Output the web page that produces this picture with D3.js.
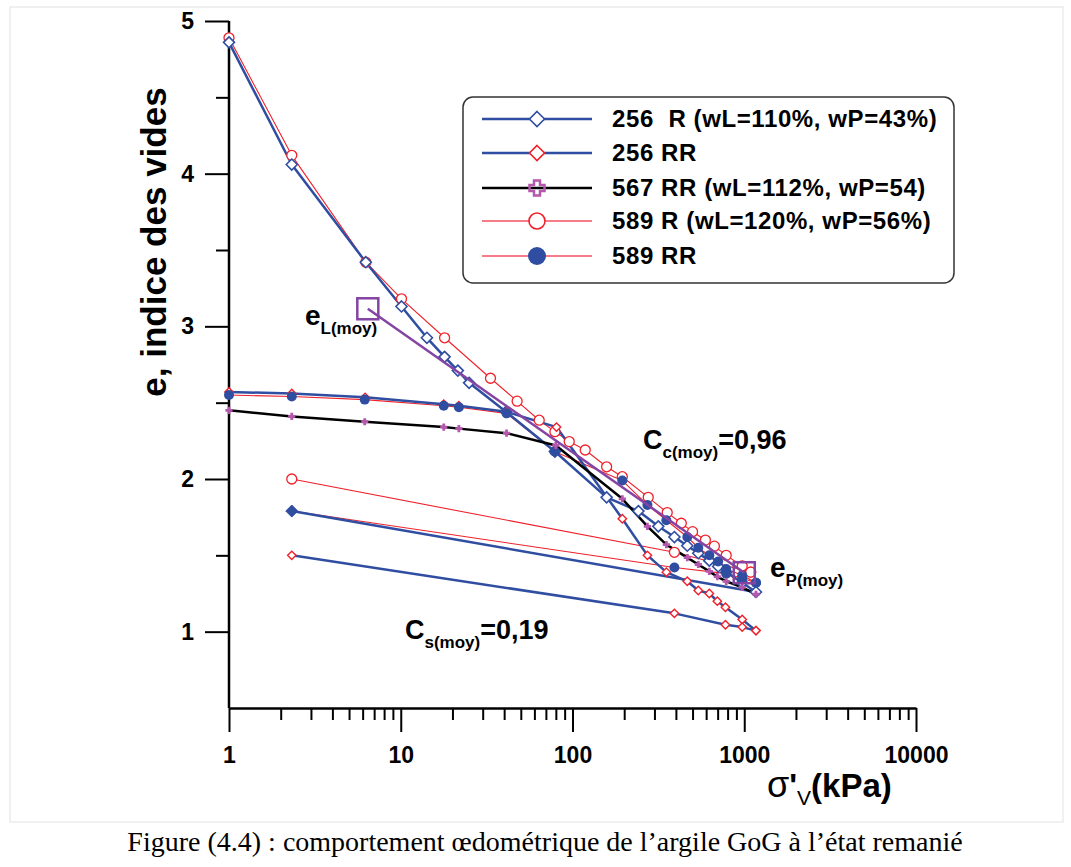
<!DOCTYPE html>
<html><head><meta charset="utf-8">
<script src="https://cdn.jsdelivr.net/npm/d3@7"></script>
<style>body{margin:0;background:#fff}svg{display:block}</style>
</head><body><svg id="c" width="1071" height="867"></svg>
<script>
// ---- data ----
const xTicks = [1, 10, 100, 1000, 10000];
const xTickLabels = ["1", "10", "100", "1000", "10000"];
const yTicks = [1, 2, 3, 4, 5];
const yMinorTicks = [1.5, 2.5, 3.5, 4.5];

const sig256R = [1, 2.32, 6.26, 10.1, 14.2, 18, 21.5, 25, 41, 79, 158, 242, 316, 392, 466, 540, 626, 705, 785, 973, 1170];
const e256R   = [4.86, 4.06, 3.42, 3.13, 2.925, 2.80, 2.71, 2.63, 2.44, 2.18, 1.88, 1.79, 1.69, 1.62, 1.563, 1.514, 1.465, 1.427, 1.39, 1.32, 1.26];
const sig256Ru = [1170, 2.32];
const e256Ru   = [1.26, 1.79];

const sig256RR = [1, 2.32, 6.2, 17.8, 21.8, 41.3, 80.7, 195, 273, 352, 466, 540, 626, 697, 777, 973, 1170];
const e256RR   = [2.57, 2.56, 2.535, 2.49, 2.48, 2.44, 2.34, 1.74, 1.50, 1.39, 1.33, 1.27, 1.25, 1.20, 1.16, 1.08, 1.007];
const sig256RRu = [1170, 973, 777, 392, 2.32];
const e256RRu   = [1.007, 1.03, 1.045, 1.12, 1.50];

const sig567RR = [1, 2.32, 6.17, 17.8, 21.8, 41.3, 80, 195, 273, 352, 466, 540, 626, 697, 785, 973, 1170];
const e567RR   = [2.45, 2.41, 2.375, 2.34, 2.33, 2.30, 2.22, 1.87, 1.69, 1.57, 1.485, 1.44, 1.395, 1.36, 1.33, 1.29, 1.245];

const sig589R = [1, 2.32, 6.26, 10.1, 18, 33.3, 47.6, 64, 79, 95.7, 118.6, 158, 195, 276, 356, 430, 500, 594, 670, 785, 973, 1090];
const e589R   = [4.89, 4.12, 3.42, 3.18, 2.925, 2.66, 2.51, 2.385, 2.31, 2.245, 2.19, 2.08, 2.015, 1.88, 1.78, 1.71, 1.655, 1.60, 1.56, 1.50, 1.43, 1.39];
const sig589Ru = [1090, 392, 2.32];
const e589Ru   = [1.39, 1.52, 2.0];

const sig589RR = [1, 2.32, 6.17, 17.8, 21.8, 41.3, 78.5, 195, 273, 352, 466, 540, 626, 705, 785, 973, 1170];
const e589RR   = [2.55, 2.54, 2.52, 2.48, 2.47, 2.43, 2.18, 1.99, 1.83, 1.73, 1.62, 1.55, 1.50, 1.46, 1.41, 1.37, 1.32];
const sig589RRu = [1170, 973, 785, 392, 2.32];
const e589RRu   = [1.32, 1.35, 1.38, 1.42, 1.79];

const sigCc = [6.43, 1000];
const eCc   = [3.115, 1.386];

const legendLabels = ["256  R (wL=110%, wP=43%)", "256 RR", "567 RR (wL=112%, wP=54)", "589 R (wL=120%, wP=56%)", "589 RR"];

// ---- setup ----
const BLUE = "#2f4ea2", RED = "#f0202a", PURPLE = "#8444a3", PLUS = "#b457ad";
const svg = d3.select("#c");
const x = d3.scaleLog().domain([1, 10000]).range([229, 916]);
const y = d3.scaleLinear().domain([0.5, 5]).range([708, 21]);
const zip = (a, b) => a.map((v, i) => [v, b[i]]);
const line = d3.line().x(d => x(d[0])).y(d => y(d[1]));

// frame
svg.append("rect").attr("x", 10).attr("y", 7).attr("width", 1053).attr("height", 815)
  .attr("fill", "none").attr("stroke", "#e2e2e2").attr("stroke-width", 1);

// axes
const minorX = [];
for (let d = 1; d < 10000; d *= 10) for (let k = 2; k <= 9; k++) minorX.push(d * k);
const gxm = svg.append("g").attr("transform", "translate(0,708)")
  .call(d3.axisBottom(x).tickValues(minorX).tickSize(12).tickFormat(""));
const gx = svg.append("g").attr("transform", "translate(0,708)")
  .call(d3.axisBottom(x).tickValues(xTicks).tickSize(24).tickSizeOuter(0).tickPadding(15)
    .tickFormat((d, i) => xTickLabels[i]));
const gym = svg.append("g").attr("transform", "translate(229,0)")
  .call(d3.axisLeft(y).tickValues(yMinorTicks).tickSize(13).tickFormat(""));
const gy = svg.append("g").attr("transform", "translate(229,0)")
  .call(d3.axisLeft(y).tickValues(yTicks).tickSize(24).tickSizeOuter(0).tickPadding(11).tickFormat(d3.format("d")));
[gx, gxm, gy, gym].forEach(g => {
  g.selectAll("path.domain").attr("stroke", "#000").attr("stroke-width", 2.5);
  g.selectAll(".tick line").attr("stroke", "#000").attr("stroke-width", 2);
  g.selectAll("text").attr("font-family", "Liberation Sans, Arial, sans-serif")
    .attr("font-weight", "bold").attr("font-size", 23).attr("fill", "#000");
});
gxm.select("path.domain").remove();
gym.select("path.domain").remove();
gy.select("path.domain").attr("d", "M0,708V21");

// axis titles
svg.append("text").attr("transform", "translate(166,242) rotate(-90)").attr("text-anchor", "middle")
  .attr("font-family", "Liberation Sans, Arial, sans-serif").attr("font-weight", "bold").attr("font-size", 35)
  .text("e, indice des vides");
const xt = svg.append("text").attr("x", 767).attr("y", 797)
  .attr("font-family", "Liberation Sans, Arial, sans-serif").attr("font-size", 33);
xt.append("tspan").attr("font-weight", "normal").attr("font-size", 36).text("σ");
xt.append("tspan").attr("font-weight", "bold").text("'");
xt.append("tspan").attr("font-size", 21).attr("dy", 8).text("V");
xt.append("tspan").attr("font-weight", "bold").attr("dy", -8).text("(kPa)");

// markers
const diamond = r => `M0,${-r}L${r},0L0,${r}L${-r},0Z`;
const plusPath = (a, b) => `M${-b},${-a}H${b}V${-b}H${a}V${b}H${b}V${a}H${-b}V${b}H${-a}V${-b}H${-b}Z`;

const plot = svg.append("g");
function drawLine(pts, color, w) {
  plot.append("path").datum(pts).attr("d", line).attr("fill", "none").attr("stroke", color)
    .attr("stroke-width", w).attr("stroke-linejoin", "round");
}
function drawMarks(pts, kind) {
  const g = plot.append("g");
  const s = g.selectAll("path").data(pts).join("path")
    .attr("transform", d => `translate(${x(d[0])},${y(d[1])})`);
  if (kind === "bdiam") s.attr("d", diamond(5.5)).attr("fill", "#fff").attr("stroke", BLUE).attr("stroke-width", 1.6);
  if (kind === "bdiamf") s.attr("d", diamond(6)).attr("fill", BLUE).attr("stroke", BLUE).attr("stroke-width", 1);
  if (kind === "rdiam") s.attr("d", diamond(4.2)).attr("fill", "#fff").attr("stroke", RED).attr("stroke-width", 1.4);
  if (kind === "rcirc") s.attr("d", d3.symbol(d3.symbolCircle, Math.PI * 25)).attr("fill", "#fff").attr("stroke", RED).attr("stroke-width", 1.3);
  if (kind === "bcirc") s.attr("d", d3.symbol(d3.symbolCircle, Math.PI * 25)).attr("fill", BLUE).attr("stroke", "none");
  if (kind === "plus") s.attr("d", plusPath(3.6, 1.4)).attr("fill", PLUS).attr("stroke", "none");
}

const s256R = zip(sig256R, e256R), s256Ru = zip(sig256Ru, e256Ru);
const s256RR = zip(sig256RR, e256RR), s256RRu = zip(sig256RRu, e256RRu);
const s567 = zip(sig567RR, e567RR);
const s589R = zip(sig589R, e589R), s589Ru = zip(sig589Ru, e589Ru);
const s589RR = zip(sig589RR, e589RR), s589RRu = zip(sig589RRu, e589RRu);

drawLine(s589R, RED, 1.1); drawLine(s589Ru, RED, 1.1);
drawLine(s589RR, RED, 1.1); drawLine(s589RRu, RED, 1.1);
drawLine(s256R, BLUE, 2.5); drawLine(s256Ru, BLUE, 2.5);
drawLine(s256RR, BLUE, 2.5); drawLine(s256RRu, BLUE, 2.5);
drawLine(s567, "#000", 2.5);
drawMarks(s589R, "rcirc"); drawMarks(s589Ru, "rcirc");
drawMarks(s256R, "bdiam"); drawMarks(s256Ru.slice(1), "bdiamf");
drawMarks(s256RR, "rdiam"); drawMarks(s256RRu, "rdiam");
drawMarks(s589RR, "bcirc"); drawMarks(s589RRu.slice(0, 4), "bcirc");
drawMarks(s567, "plus");

// Cc reference line with squares
const cc = zip(sigCc, eCc);
drawLine(cc, PURPLE, 2.5);
plot.append("g").selectAll("rect").data(cc).join("rect")
  .attr("x", d => x(d[0]) - 10.5).attr("y", d => y(d[1]) - 10.5).attr("width", 21).attr("height", 21)
  .attr("fill", "none").attr("stroke", PURPLE).attr("stroke-width", 2.5);

// annotations
function annot(xp, yp, main, sub, tail, big, small) {
  const t = svg.append("text").attr("x", xp).attr("y", yp)
    .attr("font-family", "Liberation Sans, Arial, sans-serif").attr("font-weight", "bold").attr("font-size", big);
  t.append("tspan").text(main);
  t.append("tspan").attr("font-size", small).attr("dy", 9).text(sub);
  if (tail) t.append("tspan").attr("dy", -9).text(tail);
}
annot(305, 325, "e", "L(moy)", null, 28, 17);
annot(643, 449, "C", "c(moy)", "=0,96", 27, 17);
annot(770, 577, "e", "P(moy)", null, 28, 17);
annot(405, 639, "C", "s(moy)", "=0,19", 27, 17);

// legend
const lg = svg.append("g");
lg.append("rect").attr("x", 463).attr("y", 97).attr("width", 491).attr("height", 186).attr("rx", 10)
  .attr("fill", "#fff").attr("stroke", "#333").attr("stroke-width", 1.5);
const rowY = [119, 153, 188, 221, 256];
const lgLine = [[BLUE, 2.5], [BLUE, 2.5], ["#000", 2.5], ["#f25060", 1.6], ["#f25060", 1.6]];
legendLabels.forEach((lab, i) => {
  const yy = rowY[i];
  lg.append("line").attr("x1", 482).attr("x2", 592).attr("y1", yy).attr("y2", yy)
    .attr("stroke", lgLine[i][0]).attr("stroke-width", lgLine[i][1]);
  const m = lg.append("path").attr("transform", `translate(537,${yy})`);
  if (i === 0) m.attr("d", diamond(7.5)).attr("fill", "#fff").attr("stroke", BLUE).attr("stroke-width", 1.6);
  if (i === 1) m.attr("d", diamond(7.5)).attr("fill", "#fff").attr("stroke", RED).attr("stroke-width", 1.6);
  if (i === 2) m.attr("d", plusPath(7.5, 3)).attr("fill", "none").attr("stroke", PLUS).attr("stroke-width", 2.5);
  if (i === 3) m.attr("d", d3.symbol(d3.symbolCircle, Math.PI * 64)).attr("fill", "#fff").attr("stroke", RED).attr("stroke-width", 1.6);
  if (i === 4) m.attr("d", d3.symbol(d3.symbolCircle, Math.PI * 81)).attr("fill", BLUE);
  lg.append("text").attr("x", 612).attr("y", yy + 8).attr("xml:space", "preserve")
    .attr("font-family", "Liberation Sans, Arial, sans-serif").attr("font-weight", "bold").attr("font-size", 24)
    .attr("letter-spacing", 0.6)
    .text(lab);
});

// caption
svg.append("text").attr("x", 545).attr("y", 851).attr("text-anchor", "middle")
  .attr("font-family", "Liberation Serif, Times New Roman, serif").attr("font-size", 28)
  .text("Figure (4.4) : comportement œdométrique de l’argile GoG à l’état remanié");
</script></body></html>
